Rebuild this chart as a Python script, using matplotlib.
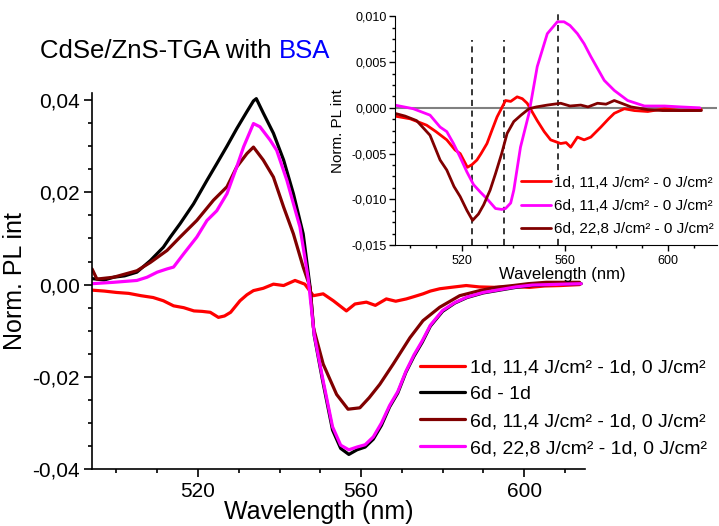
import matplotlib
matplotlib.use("Agg")
import matplotlib.pyplot as plt
from matplotlib.ticker import MultipleLocator, FuncFormatter

plt.rcParams["font.family"] = ["Liberation Sans", "DejaVu Sans"]
plt.rcParams["axes.unicode_minus"] = False

# ---------------- main panel data ----------------
wl_red = [494, 497, 500, 503, 506, 509, 511.5, 514, 516.5, 519, 521, 523, 525, 526.5, 528, 530.3,
          532, 533.6, 536, 538.5, 541, 543.8, 546.2, 548.3, 550.7, 553.2, 556.4, 558.5, 561.3,
          563.5, 566.2, 568.5, 571.1, 573, 575.2, 577, 579.3, 582, 585.8, 589, 593.2, 597,
          601.3, 605, 609, 613.6]
pl_red = [-0.0012, -0.0014, -0.0017, -0.0019, -0.0024, -0.0028, -0.0035, -0.0046, -0.0050, -0.0057,
          -0.0058, -0.0060, -0.0071, -0.0068, -0.0060, -0.0035, -0.0022, -0.0013, -0.0008, 0.0001,
          -0.0002, 0.0009, 0.0001, -0.0024, -0.0020, -0.0035, -0.0057, -0.0042, -0.0038, -0.0045,
          -0.0031, -0.0036, -0.0031, -0.0026, -0.0020, -0.0014, -0.0009, -0.0006, -0.0002, -0.0005,
          -0.0006, -0.0004, -0.0006, -0.0003, -0.0002, 0.0000]

wl_black = [494, 497, 499.3, 502, 505, 508.3, 511.5, 513.2, 515.6, 518.9, 522.2, 524.6, 527.1,
            529.5, 532, 533.6, 534.3, 536, 538.5, 541, 543.4, 545.8, 547.5, 548.5, 550.5, 553,
            555, 557, 559, 561, 563, 565, 567, 569, 571, 573, 575, 577, 580, 583, 586, 590, 594,
            598, 602, 606, 610, 614]
pl_black = [0.0013, 0.0010, 0.0016, 0.0019, 0.0027, 0.0052, 0.0081, 0.0103, 0.0132, 0.0175,
            0.0226, 0.0262, 0.0300, 0.0338, 0.0375, 0.0398, 0.0403, 0.0372, 0.0328, 0.0270,
            0.0197, 0.0110, -0.0006, -0.0110, -0.0205, -0.0315, -0.0355, -0.0368, -0.0358,
            -0.0352, -0.0335, -0.0305, -0.0265, -0.0235, -0.0190, -0.0155, -0.0125, -0.0090,
            -0.0058, -0.0040, -0.0028, -0.0018, -0.0012, -0.0006, -0.0002, 0.0000, 0.0001, 0.0002]

wl_dark = [494, 495.2, 499.3, 505, 508.3, 512.4, 515.6, 519.7, 523.8, 527.1, 529.5, 532, 533.6,
           536, 538.5, 541, 543.4, 545.8, 547.5, 548.3, 550.7, 554, 556.8, 559.7, 562, 564.6,
           567.9, 572, 575.2, 579.3, 584.2, 589.1, 593, 597.3, 601, 605.4, 609, 613.6]
pl_dark = [0.0034, 0.0012, 0.0016, 0.0030, 0.0048, 0.0074, 0.0103, 0.0139, 0.0183, 0.0212,
           0.0255, 0.0284, 0.0298, 0.0270, 0.0233, 0.0168, 0.0110, 0.0038, -0.0006, -0.0093,
           -0.0172, -0.0238, -0.0270, -0.0267, -0.0245, -0.0216, -0.0172, -0.0115, -0.0078,
           -0.0049, -0.0024, -0.0013, -0.0006, -0.0002, 0.0002, 0.0005, 0.0005, 0.0005]

wl_mag = [494, 499.3, 505, 507.5, 510, 512.4, 514, 516.5, 519.7, 522.2, 524.6, 527.1, 529.5,
          531.2, 533.6, 535.2, 537.7, 539.3, 541.8, 545, 547, 548.5, 550.5, 553, 555, 557, 559,
          561, 563, 565, 567, 569, 571, 573, 575, 577, 580, 583, 586, 590, 594, 598, 602, 606,
          610, 614]
pl_mag = [0.0002, 0.0005, 0.0009, 0.0016, 0.0027, 0.0034, 0.0038, 0.0067, 0.0103, 0.0139, 0.0160,
          0.0197, 0.0255, 0.0299, 0.0349, 0.0342, 0.0313, 0.0291, 0.0226, 0.0125, 0.0015,
          -0.0108, -0.0200, -0.0308, -0.0348, -0.0358, -0.0352, -0.0347, -0.0330, -0.0300,
          -0.0262, -0.0232, -0.0188, -0.0152, -0.0122, -0.0088, -0.0056, -0.0039, -0.0027,
          -0.0017, -0.0011, -0.0005, -0.0001, 0.0000, 0.0001, 0.0002]

main_labels = ["1d, 11,4 J/cm² - 1d, 0 J/cm²", "6d - 1d",
               "6d, 11,4 J/cm² - 1d, 0 J/cm²", "6d, 22,8 J/cm² - 1d, 0 J/cm²"]

# ---------------- inset data ----------------
in_wl_red = [494, 500, 506.4, 510, 514.2, 517.4, 519.4, 522.2, 524, 525.9, 527.5, 529.8, 531.8,
             533.7, 537, 539, 541.5, 543.5, 545.4, 549.3, 552, 554.5, 558.4, 560.5, 562.3, 564.9,
             567.5, 570.1, 574, 577, 579.2, 583.1, 587, 592.2, 598.7, 605, 613]
in_pl_red = [-0.0009, -0.0012, -0.0019, -0.0026, -0.0035, -0.0046, -0.0050, -0.0065, -0.0062,
             -0.0057, -0.0050, -0.0039, -0.0024, -0.0010, 0.0008, 0.0007, 0.0012, 0.0010, 0.0005,
             -0.0014, -0.0026, -0.0035, -0.0039, -0.0038, -0.0043, -0.0032, -0.0035, -0.0032,
             -0.0021, -0.0012, -0.0006, -0.0001, -0.0003, -0.0004, -0.0001, -0.0003, -0.0002]

in_wl_mag = [494, 501.2, 507.7, 511.6, 514.2, 516.8, 519.4, 522, 524.6, 527.2, 530, 533.1, 535.5,
             537, 539, 540.2, 542.8, 546.1, 549.3, 553.2, 557.1, 559.7, 562, 564.9, 567.5, 570.1,
             575.3, 579.2, 584.4, 590.9, 598.7, 605, 612.4]
in_pl_mag = [0.0003, -0.0001, -0.0008, -0.0021, -0.0026, -0.0039, -0.0054, -0.0070, -0.0084,
             -0.0092, -0.0100, -0.0110, -0.0111, -0.0110, -0.0104, -0.0090, -0.0043, -0.0006,
             0.0045, 0.0081, 0.0094, 0.0094, 0.0090, 0.0081, 0.0070, 0.0056, 0.0030, 0.0019,
             0.0008, 0.0002, 0.0002, 0.0001, 0.0000]

in_wl_dark = [494, 498, 502.5, 507.7, 511.6, 514.2, 517, 519.4, 522, 524.2, 526.5, 528.5, 531,
              533.1, 535.5, 537.6, 540.2, 543, 546.1, 549, 553.2, 558.4, 562, 566.2, 569, 572.7,
              576, 579.2, 582, 585.7, 592.2, 598, 605.2, 613]
in_pl_dark = [-0.0006, -0.0009, -0.0014, -0.0030, -0.0057, -0.0068, -0.0086, -0.0097, -0.0112,
              -0.0123, -0.0116, -0.0106, -0.0090, -0.0072, -0.0050, -0.0028, -0.0015, -0.0008,
              -0.0001, 0.0001, 0.0003, 0.0005, 0.0002, 0.0003, 0.0001, 0.0005, 0.0004, 0.0008,
              0.0005, 0.0001, -0.0002, -0.0003, -0.0003, -0.0003]

inset_labels = ["1d, 11,4 J/cm² - 0 J/cm²", "6d, 11,4 J/cm² - 0 J/cm²",
                "6d, 22,8 J/cm² - 0 J/cm²"]
marker_wl = [524, 536.5, 557.5]


def comma_fmt(decimals):
    return FuncFormatter(lambda v, pos: f"{v:.{decimals}f}".replace(".", ","))


fig = plt.figure(figsize=(7.19, 5.26), dpi=100)

# ---------------- main axes ----------------
ax = fig.add_axes([0.128, 0.108, 0.686, 0.715])
kw = dict(lw=2.3, solid_joinstyle="round", solid_capstyle="round")
ax.plot(wl_red, pl_red, color="#ff0000", label=main_labels[0], **kw)
ax.plot(wl_black, pl_black, color="black", label=main_labels[1], **kw)
ax.plot(wl_dark, pl_dark, color="#800000", label=main_labels[2], **kw)
ax.plot(wl_mag, pl_mag, color="#ff00ff", label=main_labels[3], **kw)
ax.set_xlim(494, 615)
ax.set_ylim(-0.04, 0.0415)
for s in ["top", "right"]:
    ax.spines[s].set_visible(False)
for s in ["left", "bottom"]:
    ax.spines[s].set_linewidth(1.2)
ax.xaxis.set_major_locator(MultipleLocator(40))
ax.xaxis.set_minor_locator(MultipleLocator(10))
ax.yaxis.set_major_locator(MultipleLocator(0.02))
ax.yaxis.set_minor_locator(MultipleLocator(0.005))
ax.yaxis.set_major_formatter(comma_fmt(2))
ax.tick_params(which="major", length=6, width=1.2, labelsize=15, pad=3)
ax.tick_params(which="minor", length=3, width=1.2)
ax.set_xlabel("Wavelength (nm)", fontsize=18)
ax.set_ylabel("Norm. PL int", fontsize=18)
ax.xaxis.set_label_coords(0.459, -0.082)
ax.yaxis.set_label_coords(-0.132, 0.5)
ax.legend(loc="upper left", bbox_to_anchor=(0.584, 0.318), bbox_transform=fig.transFigure,
          frameon=False, fontsize=14, handlelength=2.3, handletextpad=0.3,
          labelspacing=0.48, borderpad=0, borderaxespad=0)

# title, with BSA in blue
t1 = fig.text(0.056, 0.8897, "CdSe/ZnS-TGA with ", fontsize=18.5, va="baseline", ha="left")
fig.canvas.draw()
bb = t1.get_window_extent()
fig.text(bb.x1 / fig.bbox.width, 0.8897, "BSA", fontsize=18.5, va="baseline", ha="left",
         color="#0000ff")

# ---------------- inset ----------------
ins = fig.add_axes([0.549, 0.534, 0.448, 0.435])
ins.axhline(0, color="#808080", lw=1.5, zorder=1)
for wl in marker_wl:
    top = 0.0107 if wl == marker_wl[-1] else 0.0074
    ins.plot([wl, wl], [-0.015, top], color="black", lw=1.1, ls=(0, (4, 3)), zorder=1,
             clip_on=False)
ikw = dict(lw=2, solid_joinstyle="round", solid_capstyle="round", zorder=2)
ins.plot(in_wl_red, in_pl_red, color="#ff0000", label=inset_labels[0], **ikw)
ins.plot(in_wl_mag, in_pl_mag, color="#ff00ff", label=inset_labels[1], **ikw)
ins.plot(in_wl_dark, in_pl_dark, color="#800000", label=inset_labels[2], **ikw)
ins.set_xlim(494, 619)
ins.set_ylim(-0.015, 0.010)
ins.patch.set_alpha(0)
for s in ["top", "right"]:
    ins.spines[s].set_visible(False)
ins.xaxis.set_major_locator(MultipleLocator(40))
ins.xaxis.set_minor_locator(MultipleLocator(10))
ins.yaxis.set_major_locator(MultipleLocator(0.005))
ins.yaxis.set_minor_locator(MultipleLocator(0.00125))
ins.yaxis.set_major_formatter(comma_fmt(3))
ins.tick_params(which="major", length=4, width=1, labelsize=9, pad=2)
ins.tick_params(axis="x", which="major", pad=3)
ins.tick_params(which="minor", length=2, width=1)
ins.set_xlabel("Wavelength (nm)", fontsize=12)
ins.set_ylabel("Norm. PL int", fontsize=11)
ins.xaxis.set_label_coords(0.52, -0.096)
ins.yaxis.set_label_coords(-0.155, 0.5)
leg = ins.legend(loc="upper left", bbox_to_anchor=(0.724, 0.666), bbox_transform=fig.transFigure,
                 frameon=True, fontsize=11, handlelength=2.0, handletextpad=0.2,
                 labelspacing=0.6, borderpad=0, borderaxespad=0)
leg.get_frame().set_facecolor("white")
leg.get_frame().set_edgecolor("none")
leg.get_frame().set_alpha(1)

fig.savefig("out.png", dpi=100)
